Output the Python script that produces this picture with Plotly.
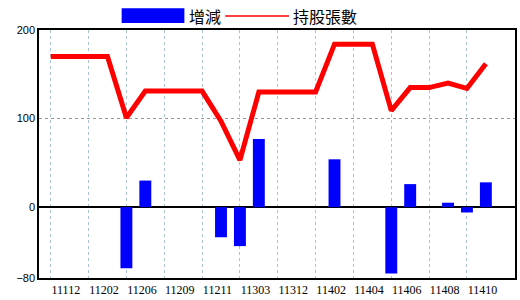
import plotly.graph_objects as go

categories = ["11112", "11201", "11202", "11205", "11206", "11208", "11209", "11210",
              "11211", "11212", "11303", "11309", "11312", "11401", "11402", "11403",
              "11404", "11405", "11406", "11407", "11408", "11409", "11410", "11411"]
holdings = [170, 170, 170, 170, 101, 131, 131, 131, 131, 97, 53, 130,
            130, 130, 130, 184, 184, 184, 109, 135, 135, 140, 134, 162]
changes = [0, 0, 0, 0, -69, 30, 0, 0, 0, -34, -44, 77,
           0, 0, 0, 54, 0, 0, -75, 26, 0, 5, -6, 28]
tick_labels = categories[::2]
y_ticks = [-80, 0, 100, 200]

fig = go.Figure()
fig.add_trace(go.Bar(x=categories, y=changes, name="增減", marker_color="#0000ff",
                     marker_line_width=0))
fig.add_trace(go.Scatter(x=categories, y=holdings, name="持股張數", mode="lines",
                         line=dict(color="#ff0000", width=5)))

fig.update_layout(
    width=520, height=300,
    margin=dict(l=39, r=3, t=30, b=20),
    plot_bgcolor="white", paper_bgcolor="white",
    showlegend=False, bargap=0.37,
    font=dict(family="Liberation Sans", size=11, color="black"),
)
fig.update_xaxes(
    type="category", range=[-0.62, 24.54],
    tickmode="array", tickvals=tick_labels, ticktext=tick_labels,
    ticks="", ticklabelposition="outside right",
    tickfont=dict(family="Liberation Serif", size=12, color="black"),
    showgrid=True, gridcolor="#a8c4d4", griddash="dot", gridwidth=1,
    showline=True, linecolor="black", linewidth=1.5, mirror=True,
)
fig.update_yaxes(
    range=[-80, 200], tickmode="array", tickvals=y_ticks,
    ticks="", tickfont=dict(family="Liberation Sans", size=11, color="black"),
    showgrid=True, gridcolor="#999999", griddash="dot", gridwidth=1,
    zeroline=True, zerolinecolor="black", zerolinewidth=1.5,
    showline=True, linecolor="black", linewidth=1.5, mirror=True,
)

# custom legend
def px_x(p):
    return (p - 39) / 478

def px_y(p):
    return (280 - p) / 250

fig.add_shape(type="rect", xref="paper", yref="paper",
              x0=px_x(122), x1=px_x(185), y0=px_y(23), y1=px_y(8),
              fillcolor="#0000ff", line_width=0)
fig.add_shape(type="line", xref="paper", yref="paper",
              x0=px_x(226), x1=px_x(290), y0=px_y(16), y1=px_y(16),
              line=dict(color="#ff0000", width=1.5))
fig.add_annotation(text="增減", xref="paper", yref="paper", x=px_x(188), y=px_y(16),
                   xanchor="left", yanchor="middle", showarrow=False,
                   font=dict(family="Noto Sans CJK TC", size=16, color="black"))
fig.add_annotation(text="持股張數", xref="paper", yref="paper", x=px_x(292), y=px_y(16),
                   xanchor="left", yanchor="middle", showarrow=False,
                   font=dict(family="Noto Sans CJK TC", size=16, color="black"))

fig.write_html("out.html")
